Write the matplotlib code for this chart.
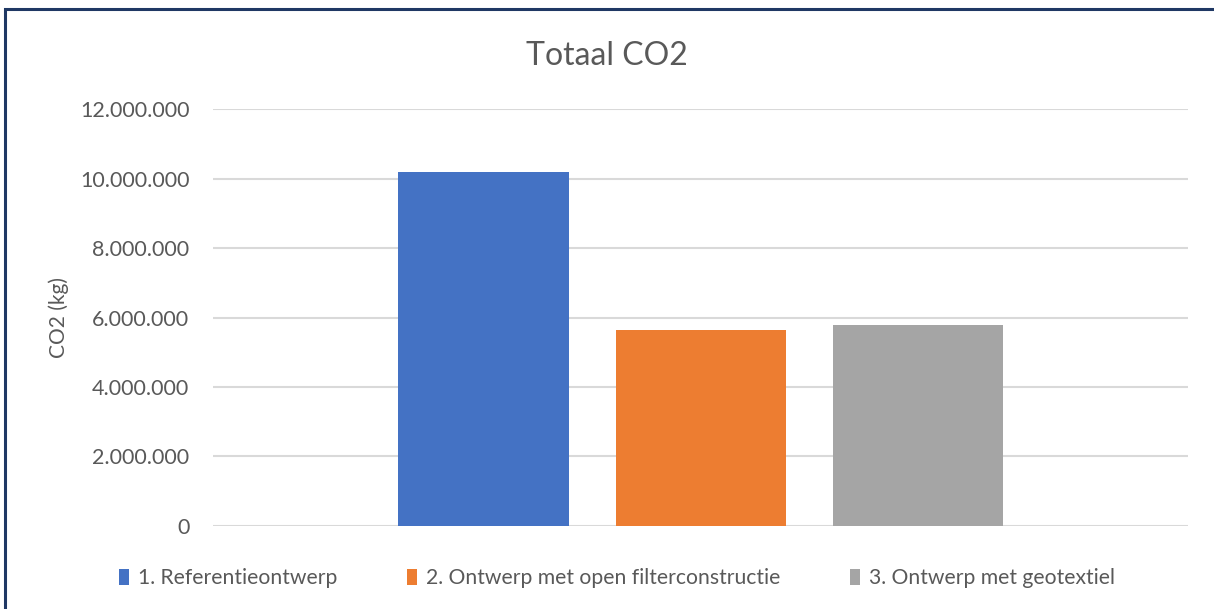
import matplotlib.pyplot as plt
from matplotlib.patches import Rectangle
from matplotlib.ticker import FuncFormatter

series = ["1. Referentieontwerp", "2. Ontwerp met open filterconstructie", "3. Ontwerp met geotextiel"]
values = [10200000, 5640000, 5780000]
colors = ["#4472c4", "#ed7d31", "#a5a5a5"]
yticks = [0, 2000000, 4000000, 6000000, 8000000, 10000000, 12000000]

plt.rcParams['font.family'] = ['Lato', 'DejaVu Sans']
text_color = "#595959"

fig = plt.figure(figsize=(12.14, 6.09), dpi=100)
ax = fig.add_axes([0.1755, 0.1363, 0.8031, 0.6847])

width = 0.1744
step = 0.2226
for i, (name, val, col) in enumerate(zip(series, values, colors)):
    ax.bar((i - 1) * step, val, width=width, color=col, label=name, zorder=3)

ax.set_xlim(-0.5, 0.5)
ax.set_ylim(0, 12000000)
ax.set_yticks(yticks)
ax.yaxis.set_major_formatter(FuncFormatter(lambda v, p: f"{int(v):,}".replace(",", ".")))
ax.set_xticks([])
ax.tick_params(axis='y', length=0, pad=17, labelsize=15.5, labelcolor=text_color)
ax.grid(axis='y', color="#d9d9d9", linewidth=1.5, zorder=0)
for s in ax.spines.values():
    s.set_visible(False)

ax.set_ylabel("CO2 (kg)", fontsize=15, color=text_color, labelpad=8)
fig.text(0.5, 0.908, "Totaal CO2", ha='center', va='center', fontsize=23, color=text_color)

leg = fig.legend(loc='center', bbox_to_anchor=(0.508, 0.051), ncol=3, frameon=False,
                 fontsize=15.2, handlelength=0.5, handleheight=0.8, handletextpad=0.4,
                 columnspacing=3.3)
for t in leg.get_texts():
    t.set_color(text_color)

# chart border (left and top visible, rest cropped)
fig.patches.append(Rectangle((5 / 1214, -0.1), 1.2, (609 - 9) / 609 + 0.1,
                             transform=fig.transFigure, fill=False,
                             edgecolor="#1f3864", linewidth=2.2))

fig.savefig("out.png", dpi=100)
